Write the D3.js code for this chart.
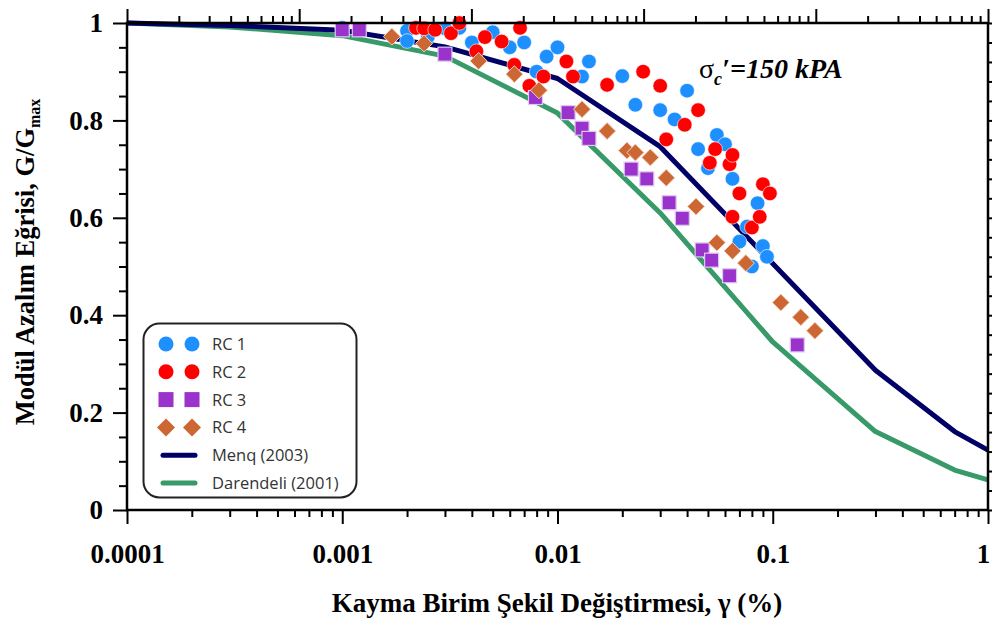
<!DOCTYPE html>
<html><head><meta charset="utf-8">
<script src="https://cdn.jsdelivr.net/npm/d3@7"></script>
<style>body{margin:0;background:#fff}svg{display:block}</style>
</head><body>
<svg id="chart" width="992" height="619"></svg>
<script>
// ---------------- DATA ----------------
const rc1 = [[0.001,0.99],[0.002,0.984],[0.002,0.963],[0.0025,0.972],[0.003,0.989],[0.0035,0.99],[0.004,0.96],[0.005,0.981],[0.006,0.95],[0.007,0.96],[0.008,0.90],[0.0089,0.931],[0.01,0.95],[0.013,0.89],[0.014,0.921],[0.02,0.891],[0.023,0.832],[0.03,0.821],[0.035,0.802],[0.04,0.861],[0.045,0.741],[0.05,0.702],[0.055,0.77],[0.06,0.751],[0.065,0.68],[0.07,0.551],[0.076,0.582],[0.08,0.50],[0.085,0.63],[0.09,0.542],[0.094,0.52]];
const rc2 = [[0.0022,0.99],[0.0024,0.989],[0.0027,0.986],[0.0032,0.979],[0.0035,1.0],[0.0042,0.942],[0.0046,0.971],[0.0055,0.962],[0.0063,0.914],[0.0067,0.99],[0.0074,0.871],[0.0086,0.89],[0.011,0.921],[0.0118,0.89],[0.017,0.873],[0.025,0.90],[0.03,0.871],[0.032,0.761],[0.039,0.791],[0.045,0.821],[0.051,0.713],[0.054,0.741],[0.063,0.71],[0.065,0.729],[0.065,0.602],[0.07,0.65],[0.08,0.58],[0.087,0.602],[0.09,0.669],[0.097,0.65]];
const rc3 = [[0.001,0.986],[0.0012,0.986],[0.003,0.936],[0.0079,0.847],[0.0112,0.816],[0.013,0.784],[0.014,0.763],[0.022,0.70],[0.026,0.68],[0.033,0.631],[0.038,0.599],[0.047,0.534],[0.052,0.513],[0.063,0.481],[0.13,0.339]];
const rc4 = [[0.0017,0.972],[0.0024,0.958],[0.0043,0.922],[0.0063,0.895],[0.0082,0.862],[0.013,0.823],[0.017,0.778],[0.021,0.738],[0.023,0.734],[0.027,0.724],[0.032,0.682],[0.044,0.623],[0.055,0.549],[0.065,0.532],[0.075,0.507],[0.109,0.426],[0.135,0.396],[0.157,0.368]];
const menqStrain = [0.0001,0.0003,0.001,0.003,0.01,0.03,0.3,0.7,1];
const menqRatio  = [1.0,0.995,0.985,0.951,0.886,0.746,0.287,0.161,0.123];
const darStrain  = [0.0001,0.0003,0.001,0.003,0.01,0.03,0.1,0.3,0.7,1];
const darRatio   = [1.0,0.992,0.974,0.932,0.815,0.61,0.345,0.161,0.082,0.062];
const xTickValues = [0.0001,0.001,0.01,0.1,1];
const xTickLabels = ["0.0001","0.001","0.01","0.1","1"];
const yTickValues = [0,0.2,0.4,0.6,0.8,1];
const yTickLabels = ["0","0.2","0.4","0.6","0.8","1"];
const legendLabels = ["RC 1","RC 2","RC 3","RC 4","Menq (2003)","Darendeli (2001)"];

// ---------------- LAYOUT ----------------
const W = 992, H = 619;
const L = 127, R = 988, T = 23, B = 510;
const C = {blue:"#1e8fff", red:"#ff0000", purple:"#9933cc", brown:"#cc6633", navy:"#000066", green:"#389a68"};
const svg = d3.select("#chart");
const x = d3.scaleLog().domain([1e-4,1]).range([L,R]);
const xTop = d3.scaleLog().domain([1e-5,1]).range([L,R]);
const y = d3.scaleLinear().domain([0,1]).range([B,T]);
const serif = "'Liberation Serif','Times New Roman',serif";

// ---------------- CURVES ----------------
const line = d3.line().x(d=>x(d[0])).y(d=>y(d[1]));
svg.append("path").datum(darStrain.map((s,i)=>[s,darRatio[i]]))
  .attr("d",line).attr("fill","none").attr("stroke",C.green).attr("stroke-width",5).attr("stroke-linejoin","round");
svg.append("path").datum(menqStrain.map((s,i)=>[s,menqRatio[i]]))
  .attr("d",line).attr("fill","none").attr("stroke",C.navy).attr("stroke-width",5).attr("stroke-linejoin","round");

// ---------------- MARKERS ----------------
function circles(g, data, color){
  g.selectAll(null).data(data).enter().append("circle")
   .attr("cx",d=>x(d[0])).attr("cy",d=>y(d[1])).attr("r",7.3)
   .attr("fill",color).attr("stroke","#fff").attr("stroke-opacity",0.6).attr("stroke-width",1);
}
function squares(g, data, color){
  g.selectAll(null).data(data).enter().append("rect")
   .attr("x",d=>x(d[0])-7).attr("y",d=>y(d[1])-7).attr("width",14).attr("height",14)
   .attr("fill",color).attr("stroke","#e0c8f0").attr("stroke-width",1.2);
}
const dia = s => `M0,${-s}L${s},0L0,${s}L${-s},0Z`;
function diamonds(g, data, color){
  g.selectAll(null).data(data).enter().append("path")
   .attr("transform",d=>`translate(${x(d[0])},${y(d[1])})`).attr("d",dia(8.5))
   .attr("fill",color).attr("stroke","#f3d2bf").attr("stroke-width",1);
}
const gm = svg.append("g");
circles(gm, rc1, C.blue);
circles(gm, rc2, C.red);
squares(gm, rc3, C.purple);
diamonds(gm, rc4, C.brown);

// ---------------- AXES ----------------
const axStroke = 2.5;
function styleAxis(g){
  g.select(".domain").remove();
  g.selectAll(".tick line").attr("stroke","#000").attr("stroke-width",2);
}
svg.append("rect").attr("x",L).attr("y",T).attr("width",R-L).attr("height",B-T)
  .attr("fill","none").attr("stroke","#000").attr("stroke-width",axStroke);

const minorX = x.ticks().filter(v=>!xTickValues.some(m=>Math.abs(m-v)/v<1e-6));
svg.append("g").attr("transform",`translate(0,${B})`)
  .call(d3.axisBottom(x).tickValues(minorX).tickSize(7).tickFormat(""))
  .call(styleAxis);
svg.append("g").attr("transform",`translate(0,${B})`)
  .call(d3.axisBottom(x).tickValues(xTickValues).tickSize(14).tickPadding(20)
    .tickFormat((d,i)=>xTickLabels[i]))
  .call(styleAxis)
  .call(g=>g.selectAll("text").attr("font-family",serif).attr("font-weight","bold")
    .attr("font-size",27).attr("fill","#000")
    .attr("dx",(d,i)=>i===xTickValues.length-1?-5:0));

const topAll = xTop.ticks();
const topMajor = [1e-5,1e-4,1e-3,1e-2,1e-1,1];
const topMinor = topAll.filter(v=>!topMajor.some(m=>Math.abs(m-v)/v<1e-6));
svg.append("g").attr("transform",`translate(0,${T})`)
  .call(d3.axisTop(xTop).tickValues(topMinor).tickSize(7).tickFormat("")).call(styleAxis);
svg.append("g").attr("transform",`translate(0,${T})`)
  .call(d3.axisTop(xTop).tickValues(topMajor).tickSize(14).tickFormat("")).call(styleAxis);

const minorY = d3.range(0,21).map(i=>i*0.05).filter(v=>Math.round(v*100)%20!==0);
svg.append("g").attr("transform",`translate(${L},0)`)
  .call(d3.axisLeft(y).tickValues(minorY).tickSize(8).tickFormat("")).call(styleAxis);
svg.append("g").attr("transform",`translate(${L},0)`)
  .call(d3.axisLeft(y).tickValues(yTickValues).tickSize(14).tickPadding(10)
    .tickFormat((d,i)=>yTickLabels[i]))
  .call(styleAxis)
  .call(g=>g.selectAll("text").attr("font-family",serif).attr("font-weight","bold")
    .attr("font-size",27).attr("fill","#000"));

const rightTicks = d3.range(0,26).map(i=>i*0.04);
svg.append("g").attr("transform",`translate(${R},0)`)
  .call(d3.axisRight(y).tickValues(rightTicks).tickSize(6).tickFormat("")).call(styleAxis);

// ---------------- TITLES ----------------
svg.append("text").attr("x",557).attr("y",612).attr("text-anchor","middle")
  .attr("font-family",serif).attr("font-weight","bold").attr("font-size",27)
  .text("Kayma Birim Şekil Değiştirmesi, γ (%)");
const yt = svg.append("text").attr("transform",`translate(34,262) rotate(-90)`)
  .attr("text-anchor","middle").attr("font-family",serif).attr("font-weight","bold").attr("font-size",26.5);
yt.append("tspan").text("Modül Azalım Eğrisi, G/G");
yt.append("tspan").attr("font-size",16).attr("dy",6).text("max");

// annotation
const an = svg.append("text").attr("x",699).attr("y",78).attr("font-family",serif).attr("font-size",28);
an.append("tspan").text("σ");
an.append("tspan").attr("font-style","italic").attr("font-weight","bold").attr("font-size",18).attr("dy",7).text("c");
an.append("tspan").attr("font-style","italic").attr("font-weight","bold").attr("dy",-7).text("′=150 kPA");

// ---------------- LEGEND ----------------
const lg = svg.append("g");
lg.append("rect").attr("x",143.5).attr("y",323.5).attr("width",213).attr("height",174).attr("rx",16)
  .attr("fill","#fff").attr("stroke","#222").attr("stroke-width",2);
const rowY = i => 344 + i*27.8;
const kinds = ["c","c","s","d","l","l"];
const cols = [C.blue,C.red,C.purple,C.brown,C.navy,C.green];
legendLabels.forEach((lab,i)=>{
  const yy = rowY(i);
  if(kinds[i]==="l"){
    lg.append("line").attr("x1",163).attr("x2",195).attr("y1",yy).attr("y2",yy)
      .attr("stroke",cols[i]).attr("stroke-width",5).attr("stroke-linecap","round");
  } else {
    [166,192].forEach(cx=>{
      if(kinds[i]==="c") lg.append("circle").attr("cx",cx).attr("cy",yy).attr("r",7.5).attr("fill",cols[i]);
      else if(kinds[i]==="s") lg.append("rect").attr("x",cx-7.5).attr("y",yy-7.5).attr("width",15).attr("height",15).attr("fill",cols[i]);
      else lg.append("path").attr("transform",`translate(${cx},${yy})`).attr("d",dia(9)).attr("fill",cols[i]);
    });
  }
  lg.append("text").attr("x",212).attr("y",yy).attr("dy","0.36em")
    .attr("font-family","'Open Sans',sans-serif").attr("font-size",16.5).attr("fill","#333").text(lab);
});
</script>
</body></html>
